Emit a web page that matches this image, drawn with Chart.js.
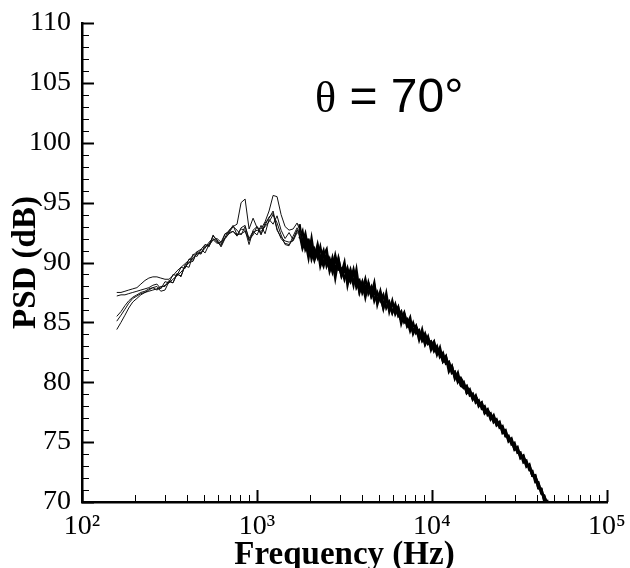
<!DOCTYPE html>
<html>
<head>
<meta charset="utf-8">
<script src="https://cdn.jsdelivr.net/npm/chart.js@4.4.1/dist/chart.umd.min.js"></script>
<style>
  html, body { margin: 0; padding: 0; background: #fff; }
  canvas { display: block; }
</style>
</head>
<body>
<canvas id="psdChart" width="630" height="568"></canvas>
<script>
// frequency grid (Hz) for the low part, where the runs still differ
const freqLo = [158, 167, 176, 185, 195, 206, 217, 229, 241, 254, 268, 282, 298, 314, 331, 349, 368, 388, 409, 431,
  454, 479, 505, 532, 561, 591, 623, 657, 692, 730, 769, 811, 855, 901, 950, 1001, 1055, 1112, 1172, 1236,
  1302, 1373, 1447, 1525, 1608, 1695, 1786];

// PSD (dB) of the five runs below ~1.8 kHz
const psdLo1 = [87.5, 87.5, 87.6, 87.7, 87.8, 87.9, 88.2, 88.5, 88.7, 88.8, 88.8, 88.7, 88.6, 88.6, 88.9, 89.3, 89.6, 89.9, 90.2, 90.6,
  90.9, 91.1, 91.5, 91.4, 91.9, 92.0, 91.7, 92.0, 92.5, 93.0, 92.7, 92.3, 93.0, 92.0, 92.6, 92.3, 93.1, 92.4, 93.6, 93.2,
  93.9, 92.7, 92.0, 92.5, 91.9, 92.7, 92.1];
const psdLo2 = [87.2, 87.3, 87.3, 87.4, 87.5, 87.6, 87.7, 87.8, 87.9, 88.1, 88.2, 87.8, 88.4, 88.3, 89.0, 88.9, 89.6, 89.5, 90.3, 90.2,
  90.8, 90.7, 91.5, 91.3, 92.3, 91.8, 91.5, 92.4, 92.6, 93.1, 92.3, 92.8, 92.7, 91.5, 92.7, 93.0, 92.3, 93.3, 93.7, 94.3,
  92.8, 92.0, 91.6, 91.5, 91.9, 92.7, 92.4];
const psdLo3 = [85.5, 85.9, 86.4, 86.8, 87.1, 87.3, 87.5, 87.6, 87.8, 87.9, 87.7, 87.9, 88.1, 88.3, 88.6, 88.9, 89.2, 89.6, 90.0, 90.4,
  90.7, 90.8, 91.2, 91.7, 92.0, 91.7, 91.4, 92.1, 92.7, 93.0, 93.2, 95.0, 95.3, 92.8, 93.7, 92.9, 92.8, 93.4, 94.3, 95.6,
  95.5, 94.0, 93.0, 92.7, 92.8, 93.3, 92.4];
const psdLo4 = [85.1, 85.6, 86.1, 86.6, 87.0, 87.2, 87.4, 87.5, 87.7, 87.9, 88.0, 87.6, 87.7, 88.4, 88.3, 89.0, 88.9, 89.7, 89.6, 90.7,
  90.5, 91.1, 90.8, 91.5, 92.2, 91.9, 91.3, 92.0, 92.4, 92.6, 92.2, 92.9, 93.1, 91.8, 92.5, 92.7, 92.6, 93.0, 93.4, 94.0,
  93.3, 92.3, 91.5, 91.4, 92.2, 92.9, 92.0];
const psdLo5 = [84.4, 85.0, 85.6, 86.2, 86.7, 87.0, 87.3, 87.5, 87.6, 87.7, 87.8, 88.0, 88.0, 88.5, 88.3, 89.1, 88.8, 89.8, 90.0, 90.1,
  90.9, 90.8, 91.3, 91.5, 91.9, 91.6, 91.7, 92.4, 92.5, 92.6, 92.3, 92.4, 92.6, 91.9, 92.3, 93.0, 92.4, 93.1, 93.8, 94.1,
  92.7, 92.1, 91.8, 91.7, 91.8, 92.5, 92.2];

// frequency grid (Hz) for the upper part, where all runs collapse into one noisy band
const freqHi = [1750, 1820, 1890, 1970, 2050, 2130, 2220, 2300, 2400, 2500, 2600, 2700, 2800, 2920, 3040, 3160, 3290, 3420, 3560, 3700,
  3850, 4000, 4160, 4330, 4500, 4680, 4870, 5070, 5270, 5480, 5700, 5930, 6170, 6410, 6670, 6940, 7210, 7500, 7800, 8110,
  8440, 8780, 9130, 9490, 9870, 10270, 10680, 11100, 11550, 12010, 12490, 12990, 13510, 14050, 14610, 15200, 15800, 16440, 17100, 17780,
  18490, 19230, 20000, 20800, 21630, 22500, 23400, 24330, 25300, 26320, 27370, 28470, 29610, 30790, 32020, 33300, 34630, 36020, 37460, 38960,
  40520, 42140, 43820, 45580, 47400];

const psdHi1 = [92.8, 91.6, 92.4, 91.0, 91.2, 90.2, 91.0, 90.3, 91.0, 89.7, 90.3, 89.5, 90.6, 89.4, 89.5, 88.6, 89.5, 88.5, 89.2, 87.9,
  88.4, 87.65, 88.6, 87.4, 87.95, 86.8, 87.5, 86.8, 87.3, 86.2, 86.7, 85.8, 86.5, 85.55, 85.9, 85.0, 85.25, 84.3, 84.95, 84.1,
  84.35, 83.5, 84.05, 83.2, 83.4, 82.6, 83.0, 82.1, 82.45, 81.55, 81.7, 80.75, 80.9, 80.0, 80.35, 79.9, 79.1, 79.4, 78.65, 78.8,
  78.0, 78.3, 77.5, 77.75, 77.0, 77.15, 76.4, 76.6, 75.85, 76.0, 75.15, 75.2, 74.35, 74.5, 73.75, 73.9, 73.05, 73.05, 72.2, 72.15,
  71.15, 71.1, 70.15, 70.0, 69.05];
const psdHi2 = [92.0, 92.6, 91.1, 91.7, 90.3, 91.1, 90.4, 91.3, 89.9, 90.4, 89.4, 90.4, 89.4, 90.3, 88.9, 89.4, 88.6, 89.4, 88.4, 88.8,
  87.5, 88.35, 87.6, 88.2, 87.15, 87.6, 86.7, 87.6, 86.5, 86.9, 86.1, 86.6, 85.8, 86.25, 85.2, 85.6, 84.65, 85.0, 84.25, 84.7,
  83.85, 84.1, 83.15, 83.7, 83.0, 83.4, 82.4, 82.6, 81.75, 82.15, 81.2, 81.35, 80.4, 80.6, 79.75, 79.5, 79.7, 78.9, 79.05, 78.3,
  78.5, 77.8, 78.0, 77.25, 77.4, 76.65, 76.9, 76.2, 76.35, 75.5, 75.55, 74.8, 74.95, 74.1, 74.15, 73.3, 73.45, 72.65, 72.6, 71.65,
  71.65, 70.7, 70.55, 69.6, 69.45];
const psdHi3 = [92.4, 91.2, 91.9, 91.9, 90.8, 90.4, 91.5, 90.4, 89.7, 90.7, 90.1, 89.2, 90.1, 89.8, 88.9, 89.8, 88.9, 88.4, 89.4, 88.2,
  88.5, 87.45, 88.0, 88.2, 87.25, 88.1, 86.8, 87.1, 86.2, 87.0, 86.5, 85.8, 86.4, 85.65, 85.2, 85.8, 84.85, 84.9, 84.15, 84.6,
  84.15, 83.5, 83.95, 83.3, 83.4, 82.7, 82.8, 82.7, 81.85, 81.65, 81.7, 80.85, 80.8, 80.1, 80.25, 79.6, 79.6, 79.2, 78.65, 78.8,
  78.2, 78.1, 77.5, 77.65, 77.3, 76.75, 76.8, 76.3, 76.25, 75.5, 75.45, 75.1, 74.45, 74.4, 73.85, 73.8, 73.15, 72.95, 72.2, 72.05,
  71.55, 70.8, 70.45, 69.9, 69.35];
const psdHi4 = [93.2, 91.4, 91.8, 90.4, 92.0, 90.4, 91.2, 89.7, 90.6, 91.1, 89.3, 90.1, 88.7, 90.3, 89.1, 90.0, 88.1, 89.2, 88.1, 89.4,
  87.6, 88.35, 87.1, 88.3, 87.35, 88.3, 86.5, 87.4, 86.2, 87.4, 85.9, 86.8, 85.7, 86.25, 84.9, 85.7, 84.85, 85.4, 84.05, 84.6,
  83.55, 84.4, 83.25, 83.8, 82.7, 83.3, 82.3, 82.9, 81.75, 82.15, 80.9, 81.35, 80.3, 80.8, 79.75, 80.0, 79.1, 79.3, 78.55, 78.9,
  78.1, 78.3, 77.4, 77.65, 76.9, 77.25, 76.5, 76.7, 75.75, 75.9, 75.05, 75.3, 74.45, 74.6, 73.65, 73.8, 72.95, 73.15, 72.2, 72.25,
  71.15, 71.1, 70.05, 70.1, 69.05];

// axis ticks
const xMajor = [100, 1000, 10000, 100000];
const xTickLabels = ['10\u00B2', '10\u00B3', '10\u2074', '10\u2075'];
const yMin = 70, yMax = 110, yStep = 5;

// annotation anchor in data units
const angleLabel = { f: 2145, db: 102.6 };

const serif = '"Liberation Serif", "Times New Roman", serif';
const sans = '"Liberation Sans", Arial, sans-serif';

function toPoints(freqs, vals) {
  return freqs.map((f, i) => ({ x: f, y: vals[i] }));
}

const datasets = [];
[psdLo1, psdLo2, psdLo3, psdLo4, psdLo5].forEach(v => {
  datasets.push({ data: toPoints(freqLo, v), borderColor: '#111', borderWidth: 1 });
});
[psdHi1, psdHi2, psdHi3, psdHi4].forEach(v => {
  datasets.push({ data: toPoints(freqHi, v), borderColor: '#000', borderWidth: 2.4 });
});

// inward tick marks + the angle label
const axisDecor = {
  id: 'axisDecor',
  afterDraw(chart) {
    const { ctx, chartArea: a, scales: { x, y } } = chart;
    ctx.save();
    ctx.strokeStyle = '#000';
    // y ticks every 1 dB, long ones every 5
    for (let v = yMin; v <= yMax; v++) {
      const py = Math.round(y.getPixelForValue(v)) + 0.5;
      const major = v % yStep === 0;
      ctx.lineWidth = major ? 2 : 1;
      ctx.beginPath();
      ctx.moveTo(a.left, py);
      ctx.lineTo(a.left + (major ? 12 : 7), py);
      ctx.stroke();
    }
    // x ticks at 1..9 x 10^n
    for (let d = 0; d < xMajor.length; d++) {
      for (let m = 1; m <= (d === xMajor.length - 1 ? 1 : 9); m++) {
        const px = Math.round(x.getPixelForValue(xMajor[d] * m)) + 0.5;
        const major = m === 1;
        ctx.lineWidth = major ? 2 : 1;
        ctx.beginPath();
        ctx.moveTo(px, a.bottom);
        ctx.lineTo(px, a.bottom - (major ? 12 : 7));
        ctx.stroke();
      }
    }
    // theta label
    const tx = x.getPixelForValue(angleLabel.f);
    const ty = y.getPixelForValue(angleLabel.db);
    ctx.fillStyle = '#000';
    ctx.textBaseline = 'alphabetic';
    ctx.textAlign = 'left';
    ctx.font = '44px ' + serif;
    ctx.fillText('\u03B8', tx, ty);
    const w = ctx.measureText('\u03B8').width;
    ctx.font = '48px ' + sans;
    ctx.fillText(' = 70\u00B0', tx + w, ty);
    ctx.restore();
  }
};

new Chart(document.getElementById('psdChart').getContext('2d'), {
  type: 'line',
  data: { datasets },
  options: {
    responsive: false,
    animation: false,
    devicePixelRatio: 1,
    elements: { point: { radius: 0 }, line: { tension: 0 } },
    layout: { autoPadding: false, padding: { top: 23, right: 23, bottom: 0, left: 0 } },
    plugins: { legend: { display: false }, tooltip: { enabled: false } },
    scales: {
      x: {
        type: 'logarithmic',
        min: 100,
        max: 100000,
        grid: { display: false },
        border: { display: true, color: '#000', width: 2.5 },
        afterBuildTicks: s => { s.ticks = xMajor.map(v => ({ value: v })); },
        afterFit: s => { s.height = 66; },
        ticks: {
          autoSkip: false,
          maxRotation: 0,
          padding: 0,
          color: '#000',
          font: { family: serif, size: 28 },
          callback: (v, i) => xTickLabels[i]
        },
        title: {
          display: true,
          text: 'Frequency (Hz)',
          color: '#000',
          font: { family: serif, size: 33, weight: 'bold', lineHeight: 1 },
          padding: { top: 0, bottom: -4 }
        }
      },
      y: {
        min: yMin,
        max: yMax,
        grid: { display: false },
        border: { display: true, color: '#000', width: 2.5 },
        afterFit: s => { s.width = 82; },
        ticks: {
          stepSize: yStep,
          padding: 3,
          color: '#000',
          font: { family: serif, size: 28 }
        },
        title: {
          display: true,
          text: 'PSD (dB)',
          color: '#000',
          font: { family: serif, size: 33, weight: 'bold', lineHeight: 1 },
          padding: { top: 10, bottom: 0 }
        }
      }
    }
  },
  plugins: [axisDecor]
});
</script>
</body>
</html>
